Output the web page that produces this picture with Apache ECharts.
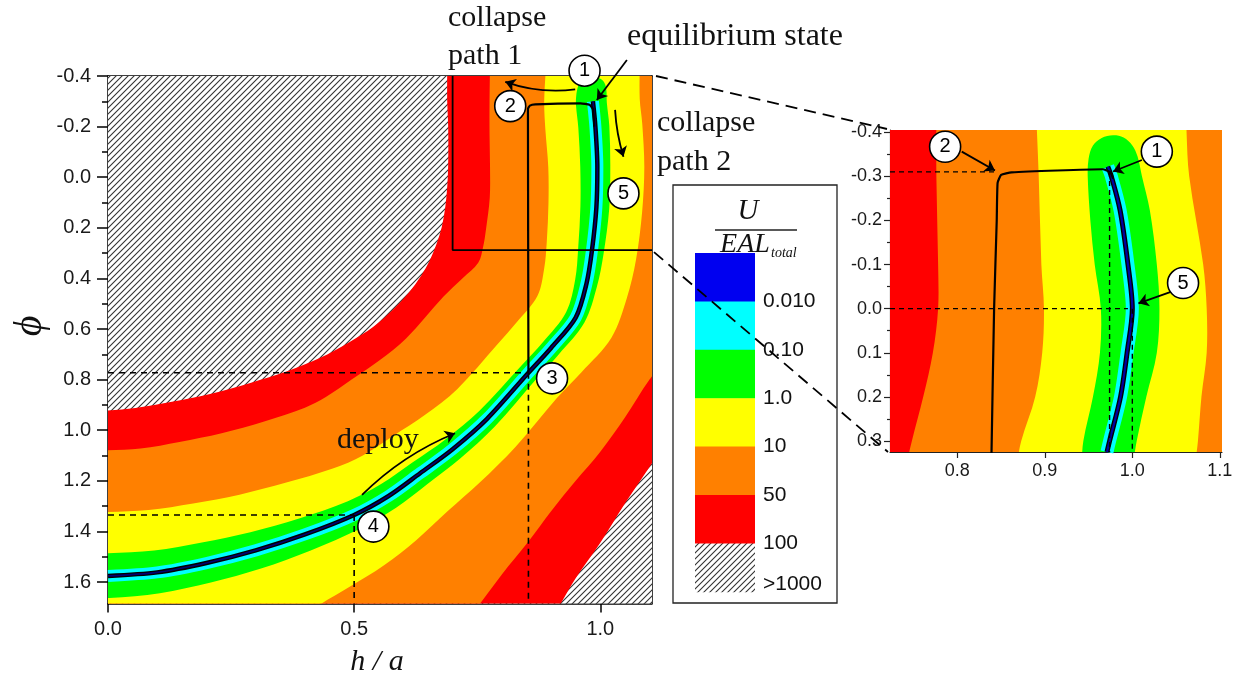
<!DOCTYPE html>
<html>
<head>
<meta charset="utf-8">
<title>Energy landscape of the deployable structure</title>
<script src="https://cdn.jsdelivr.net/npm/echarts@6/dist/echarts.min.js"></script>
<style>
html,body{margin:0;padding:0;background:#fff;}
#chart{width:1240px;height:682px;}
</style>
</head>
<body>
<div id="chart"></div>
<script>
// ---------- axis ticks ----------
const MAIN_X_TICKS = [0, 0.5, 1.0];
const MAIN_X_MINOR = [0.25, 0.75];
const MAIN_Y_TICKS = [-0.4, -0.2, 0, 0.2, 0.4, 0.6, 0.8, 1.0, 1.2, 1.4, 1.6];
const MAIN_Y_MINOR = [-0.3, -0.1, 0.1, 0.3, 0.5, 0.7, 0.9, 1.1, 1.3, 1.5];
const INSET_X_TICKS = [0.8, 0.9, 1.0, 1.1];
const INSET_X_MINOR = [0.75, 0.85, 0.95, 1.05];
const INSET_Y_TICKS = [-0.4, -0.3, -0.2, -0.1, 0, 0.1, 0.2, 0.3];
const INSET_Y_MINOR = [-0.35, -0.25, -0.15, -0.05, 0.05, 0.15, 0.25];

// ---------- energy levels (U / EAL_total) ----------
const LEVEL_LABELS = ['0.010', '0.10', '1.0', '10', '50', '100', '>1000'];
const LEVEL_COLORS = ['#0000f0', '#00ffff', '#00ff00', '#ffff00', '#ff8000', '#ff0000'];

// ---------- main map: equilibrium path (h/a, phi) ----------
const MAIN_CURVE = [[0,1.576],[0.1,1.562],[0.2,1.525],[0.3,1.475],[0.4,1.412],[0.5,1.335],[0.57,1.26],
  [0.634,1.17],[0.7,1.075],[0.77,0.955],[0.854,0.773],[0.9,0.675],[0.95,0.555],[0.972,0.42],
  [0.983,0.29],[0.992,0.12],[0.994,-0.04],[0.99,-0.2],[0.985,-0.3]];

// contour lines of the main map (upper-left side L*, lower-right side R*)
const MAIN_L100 = [[-0.05,0.925],[0,0.922],[0.0555,0.912],[0.1268,0.8885],[0.2075,0.8565],[0.289,0.813],
  [0.365,0.766],[0.43,0.715],[0.49,0.652],[0.539,0.591],[0.578,0.525],[0.61,0.459],[0.636,0.39],
  [0.654,0.327],[0.668,0.26],[0.678,0.197],[0.685,0.12],[0.689,0.04],[0.691,-0.05],[0.691,-0.2],
  [0.689,-0.3],[0.689,-0.45]];
const MAIN_R100 = [[1.15,1.0],[1.1,1.145],[1.05,1.29],[1.0,1.445],[0.95,1.585],[0.915,1.7],[0.89,1.77]];
const MAIN_L50 = [[-0.05,1.08],[-0.0187,1.08],[0.0663,1.0723],[0.1451,1.0466],[0.2309,1.0123],
  [0.3173,0.9656],[0.4,0.911],[0.4425,0.8692],[0.4949,0.8],[0.5524,0.7225],[0.6055,0.6375],
  [0.6821,0.4708],[0.7209,0.398],[0.752,0.338],[0.7618,0.2767],[0.7679,0.2047],[0.7754,0.0822],
  [0.776,-0.04],[0.775,-0.17],[0.775,-0.3],[0.776,-0.45]];
const MAIN_R50 = [[1.15,0.68],[1.1,0.8],[1.05,0.95],[1.0,1.085],[0.95,1.2],[0.9,1.32],[0.854,1.44],
  [0.8,1.57],[0.75,1.7],[0.72,1.77]];
const MAIN_L10 = [[-0.05,1.324],[-0.0096,1.3236],[0.0827,1.3154],[0.173,1.2897],[0.2671,1.255],
  [0.3622,1.2071],[0.4567,1.1518],[0.5177,1.0996],[0.5789,1.0233],[0.6435,0.9403],[0.7093,0.838],
  [0.7907,0.6617],[0.8319,0.5696],[0.8722,0.4696],[0.886,0.3613],[0.8913,0.2538],[0.8947,0.1032],
  [0.8943,-0.04],[0.8884,-0.1881],[0.886,-0.3],[0.89,-0.45]];
const MAIN_R10 = [[1.08,-0.45],[1.0801,-0.3087],[1.0852,-0.2111],[1.0894,-0.04],[1.085,0.1364],
  [1.0726,0.3257],[1.0541,0.4763],[1.0226,0.6344],[0.9618,0.7708],[0.9114,0.8739],[0.8276,1.0664],
  [0.7551,1.2071],[0.6902,1.3198],[0.6266,1.4336],[0.56,1.535],[0.49,1.62],[0.43,1.69],[0.38,1.76]];
const MAIN_L1 = [[-0.05,1.486],[0,1.486],[0.0937,1.476],[0.1907,1.444],[0.2892,1.403],[0.3882,1.349],
  [0.4872,1.281],[0.5547,1.213],[0.6183,1.128],[0.6846,1.038],[0.7541,0.9245],[0.839,0.7467],
  [0.8841,0.6506],[0.9305,0.5336],[0.949,0.4043],[0.9551,0.2791],[0.9596,0.1146],[0.9593,-0.04],
  [0.9553,-0.196],[0.9506,-0.2834],[0.951,-0.32],[0.955,-0.36],[0.962,-0.385],[0.975,-0.393],
  [0.995,-0.393],[1.006,-0.38],[1.012,-0.35]];
const MAIN_R1 = [[1.0132,-0.2957],[1.0183,-0.2032],[1.0203,-0.04],[1.0181,0.1249],[1.0069,0.2996],
  [0.9929,0.4344],[0.9677,0.5743],[0.9159,0.6996],[0.8691,0.7996],[0.7858,0.9854],[0.7154,1.1119],
  [0.6496,1.2115],[0.5852,1.3067],[0.5128,1.389],[0.4118,1.4751],[0.3108,1.547],[0.2089,1.602],
  [0.1053,1.644],[0.0033,1.663],[-0.05,1.663]];

// collapse path 1, guide lines and the zoomed window
const MAIN_PATH = [[0.854,0.773],[0.853,-0.27],[0.857,-0.283],[0.868,-0.288],[0.96,-0.292],
  [0.978,-0.286],[0.985,-0.27],[0.988,-0.2]];
const MAIN_GUIDES = [
  [[0,0.773],[0.854,0.773]], [[0.854,0.773],[0.854,1.685]],
  [[0,1.335],[0.5,1.335]], [[0.5,1.335],[0.5,1.685]]
];
const ZOOM_WINDOW = [[0.7,-0.4],[0.7,0.288],[1.105,0.288]];
const MAIN_STATES = [
  {name:'1', value:[0.968,-0.421]}, {name:'2', value:[0.817,-0.281]},
  {name:'3', value:[0.902,0.795]}, {name:'4', value:[0.539,1.381]},
  {name:'5', value:[1.047,0.064]}
];
const MAIN_ARROWS = [
  {coords:[[0.949,-0.347],[0.807,-0.377]], bend:0.12},
  {coords:[[1.054,-0.463],[0.993,-0.305]], bend:0},
  {coords:[[1.03,-0.266],[1.047,-0.081]], bend:-0.06},
  {coords:[[0.516,1.256],[0.705,1.012]], bend:0.1}
];

// ---------- inset: zoom near the folded state ----------
const INSET_CURVE = [[0.972,-0.322],[0.976,-0.3],[0.986,-0.223],[0.995,-0.1],[1.0,0.0],[0.994,0.1],
  [0.9865,0.2],[0.974,0.3],[0.971,0.325]];
const INSET_L50 = [[0.776,-0.45],[0.776,-0.3],[0.778,-0.1],[0.778,0.0],[0.772,0.1],[0.761,0.2],
  [0.748,0.3],[0.742,0.35]];
const INSET_L10 = [[0.89,-0.45],[0.891,-0.4],[0.893,-0.3],[0.896,-0.1],[0.899,0.0],[0.897,0.1],
  [0.889,0.2],[0.873,0.3],[0.868,0.35]];
const INSET_R10 = [[1.072,0.35],[1.075,0.3],[1.079,0.2],[1.085,0.1],[1.085,0.0],[1.081,-0.1],
  [1.065,-0.3],[1.062,-0.4],[1.062,-0.45]];
const INSET_L1 = [[0.942,0.35],[0.944,0.3],[0.955,0.2],[0.963,0.1],[0.964,0.0],[0.957,-0.1],
  [0.952,-0.2],[0.949,-0.3],[0.95,-0.34],[0.955,-0.37],[0.965,-0.387],[0.978,-0.393],[0.99,-0.388],
  [1.0,-0.37],[1.006,-0.345],[1.011,-0.3]];
const INSET_R1 = [[1.02,-0.223],[1.028,-0.1],[1.031,0.0],[1.028,0.1],[1.016,0.2],[1.005,0.3],[1.001,0.35]];
const INSET_PATH = [[0.839,0.33],[0.842,0.0],[0.845,-0.2],[0.846,-0.285],[0.85,-0.303],[0.862,-0.309],
  [0.966,-0.316],[0.975,-0.309],[0.978,-0.295]];
const INSET_GUIDES = [
  [[0.723,-0.31],[0.843,-0.31]], [[0.974,-0.31],[0.974,0.325]],
  [[0.723,0.0],[0.995,0.0]], [[1.0,0.0],[1.0,0.325]]
];
const INSET_STATES = [
  {name:'2', value:[0.786,-0.367]}, {name:'1', value:[1.028,-0.356]}, {name:'5', value:[1.058,-0.058]}
];
const INSET_ARROWS = [
  {coords:[[0.805,-0.356],[0.843,-0.313]], bend:0},
  {coords:[[1.011,-0.337],[0.978,-0.311]], bend:0},
  {coords:[[1.044,-0.038],[1.007,-0.012]], bend:0}
];

const SERIF = '"Liberation Serif", "Times New Roman", "DejaVu Serif", serif';
const SANS = '"Liberation Sans", Arial, sans-serif';

// diagonal hatching for the >100 region
function makeHatch(step, color) {
  const c = document.createElement('canvas');
  c.width = step; c.height = step;
  const g = c.getContext('2d');
  g.fillStyle = '#ffffff'; g.fillRect(0, 0, step, step);
  g.strokeStyle = color; g.lineWidth = 1.1;
  g.beginPath();
  g.moveTo(0, step); g.lineTo(step, 0);
  g.moveTo(-2, 2); g.lineTo(2, -2);
  g.moveTo(step - 2, step + 2); g.lineTo(step + 2, step - 2);
  g.stroke();
  return c;
}
const HATCH = {image: makeHatch(6, '#333333'), repeat: 'repeat'};

const chart = echarts.init(document.getElementById('chart'));

// a band outline: contour pieces are drawn as smooth curves, frame pieces (outside the plot) as straight lines
const curve = pts => ({smooth: true, pts: pts});
const edge = pts => ({smooth: false, pts: pts});
function smoothPath(px, first) {
  let d = (first ? 'M' : 'L') + px[0][0].toFixed(2) + ',' + px[0][1].toFixed(2);
  const n = px.length;
  const tangent = i => {
    const a = px[Math.max(0, i - 1)], b = px[Math.min(n - 1, i + 1)];
    const dx = b[0] - a[0], dy = b[1] - a[1], l = Math.hypot(dx, dy) || 1;
    return [dx / l, dy / l];
  };
  for (let i = 0; i < n - 1; i++) {
    const p = px[i], q = px[i + 1];
    const len = Math.hypot(q[0] - p[0], q[1] - p[1]) / 3;
    const t0 = tangent(i), t1 = tangent(i + 1);
    d += 'C' + (p[0] + t0[0] * len).toFixed(2) + ',' + (p[1] + t0[1] * len).toFixed(2) + ' ' +
      (q[0] - t1[0] * len).toFixed(2) + ',' + (q[1] - t1[1] * len).toFixed(2) + ' ' +
      q[0].toFixed(2) + ',' + q[1].toFixed(2);
  }
  return d;
}
function band(pieces, fill, xi, yi) {
  return {
    type: 'custom', coordinateSystem: 'cartesian2d', xAxisIndex: xi, yAxisIndex: yi,
    clip: true, silent: true, data: [pieces[0].pts[0]],
    renderItem: (params, api) => {
      let d = '';
      pieces.forEach((pc, k) => {
        const px = pc.pts.map(p => api.coord(p));
        if (pc.smooth) d += smoothPath(px, k === 0);
        else px.forEach((p, j) => { d += ((k === 0 && j === 0) ? 'M' : 'L') + p[0].toFixed(2) + ',' + p[1].toFixed(2); });
      });
      return {type: 'path', shape: {pathData: d + 'Z'}, style: {fill: fill}};
    }
  };
}
function line(data, xi, yi, color, width, extra) {
  return Object.assign({
    type: 'line', xAxisIndex: xi, yAxisIndex: yi, data: data, showSymbol: false, symbol: 'none',
    silent: true, lineStyle: {color: color, width: width, cap: 'butt'}
  }, extra || {});
}
function arrows(list, xi, yi) {
  return {
    type: 'lines', coordinateSystem: 'cartesian2d', xAxisIndex: xi, yAxisIndex: yi, clip: false,
    silent: true, symbol: ['none', 'arrow'], symbolSize: 10, z: 6,
    lineStyle: {color: '#000', width: 1.8, opacity: 1},
    data: list.map(a => ({coords: a.coords, lineStyle: {curveness: a.bend}}))
  };
}
function states(list, xi, yi, size, font) {
  return {
    type: 'scatter', xAxisIndex: xi, yAxisIndex: yi, clip: false, silent: true, z: 7,
    symbol: 'circle', symbolSize: size, data: list,
    itemStyle: {color: '#fff', borderColor: '#000', borderWidth: 1.6, opacity: 1},
    label: {show: true, position: 'inside', formatter: '{b}', color: '#000', fontSize: font, fontFamily: SANS}
  };
}
function valueAxis(gi, min, max, opts) {
  return Object.assign({
    type: 'value', gridIndex: gi, min: min, max: max, splitLine: {show: false},
    axisLine: {show: true, onZero: false, lineStyle: {color: '#000', width: 1.5}}
  }, opts);
}
const fmt1 = v => Number(v).toFixed(1);

const option = {
  animation: false,
  backgroundColor: '#ffffff',
  grid: [
    {left: 108, top: 76, width: 544, height: 527.5, show: false},
    {left: 890, top: 130, width: 332, height: 322, show: false}
  ],
  xAxis: [
    valueAxis(0, 0, 1.105, {position: 'bottom',
      axisTick: {show: true, customValues: MAIN_X_TICKS, length: 9, inside: false, lineStyle: {color: '#000', width: 1.5}},
      axisLabel: {customValues: MAIN_X_TICKS, formatter: fmt1, margin: 16, fontSize: 20, color: '#1a1a1a', fontFamily: SANS}}),
    valueAxis(0, 0, 1.105, {position: 'bottom', axisLine: {show: false},
      axisTick: {show: true, customValues: MAIN_X_MINOR, length: 5, lineStyle: {color: '#000', width: 1.5}},
      axisLabel: {show: false}}),
    valueAxis(0, 0, 1.105, {position: 'top', axisTick: {show: false}, axisLabel: {show: false}}),
    valueAxis(1, 0.723, 1.1025, {position: 'bottom', axisLine: {show: true, onZero: false, lineStyle: {color: '#222', width: 1.2}},
      axisTick: {show: true, customValues: INSET_X_TICKS, length: 6, lineStyle: {color: '#222', width: 1.2}},
      axisLabel: {customValues: INSET_X_TICKS, formatter: fmt1, margin: 10, fontSize: 18, color: '#1a1a1a', fontFamily: SANS}}),
    valueAxis(1, 0.723, 1.1025, {position: 'bottom', axisLine: {show: false},
      axisTick: {show: true, customValues: INSET_X_MINOR, length: 3, lineStyle: {color: '#222', width: 1.2}},
      axisLabel: {show: false}})
  ],
  yAxis: [
    valueAxis(0, -0.4, 1.685, {inverse: true, position: 'left',
      axisTick: {show: true, customValues: MAIN_Y_TICKS, length: 11, lineStyle: {color: '#000', width: 1.5}},
      axisLabel: {customValues: MAIN_Y_TICKS, formatter: fmt1, margin: 17, fontSize: 20, color: '#1a1a1a', fontFamily: SANS}}),
    valueAxis(0, -0.4, 1.685, {inverse: true, position: 'left', axisLine: {show: false},
      axisTick: {show: true, customValues: MAIN_Y_MINOR, length: 6, lineStyle: {color: '#000', width: 1.5}},
      axisLabel: {show: false}}),
    valueAxis(0, -0.4, 1.685, {inverse: true, position: 'right', axisTick: {show: false}, axisLabel: {show: false}}),
    valueAxis(1, -0.405, 0.325, {inverse: true, position: 'left', axisLine: {show: true, onZero: false, lineStyle: {color: '#222', width: 1.2}},
      axisTick: {show: true, customValues: INSET_Y_TICKS, length: 6, lineStyle: {color: '#222', width: 1.2}},
      axisLabel: {customValues: INSET_Y_TICKS, formatter: fmt1, margin: 8, fontSize: 18, color: '#1a1a1a', fontFamily: SANS}}),
    valueAxis(1, -0.405, 0.325, {inverse: true, position: 'left', axisLine: {show: false},
      axisTick: {show: true, customValues: INSET_Y_MINOR, length: 3, lineStyle: {color: '#222', width: 1.2}},
      axisLabel: {show: false}})
  ],
  series: [
    // main map bands, from highest level inwards
    band([edge([[-0.1,-0.5],[1.2,-0.5],[1.2,1.8],[-0.1,1.8]])], HATCH, 0, 0),
    band([curve(MAIN_L100), edge([[1.2,-0.45],[1.2,0.9]]), curve(MAIN_R100), edge([[-0.05,1.77]])], LEVEL_COLORS[5], 0, 0),
    band([curve(MAIN_L50), edge([[1.2,-0.45],[1.2,0.6]]), curve(MAIN_R50), edge([[-0.05,1.77]])], LEVEL_COLORS[4], 0, 0),
    band([curve(MAIN_L10), curve(MAIN_R10), edge([[-0.05,1.76]])], LEVEL_COLORS[3], 0, 0),
    band([curve(MAIN_L1.concat(MAIN_R1))], LEVEL_COLORS[2], 0, 0),
    line(MAIN_CURVE, 0, 0, LEVEL_COLORS[1], 12, {smooth: 0.3}),
    line(MAIN_CURVE, 0, 0, '#000', 4.5, {smooth: 0.3}),
    line(MAIN_CURVE, 0, 0, '#000070', 1.6, {smooth: 0.3}),
    line(MAIN_PATH, 0, 0, '#000', 2.2, {smooth: 0.15}),
    ...MAIN_GUIDES.map(g => line(g, 0, 0, '#000', 1.6, {lineStyle: {color: '#000', width: 1.6, type: [6, 5]}})),
    line(ZOOM_WINDOW, 0, 0, '#000', 1.8, {clip: false}),
    arrows(MAIN_ARROWS, 0, 0),
    states(MAIN_STATES, 0, 0, 31, 20),

    // inset bands
    band([edge([[0.7,-0.45],[1.15,-0.45],[1.15,0.35],[0.7,0.35]])], LEVEL_COLORS[5], 3, 3),
    band([curve(INSET_L50), edge([[1.15,0.35],[1.15,-0.45]])], LEVEL_COLORS[4], 3, 3),
    band([curve(INSET_L10), curve(INSET_R10)], LEVEL_COLORS[3], 3, 3),
    band([curve(INSET_L1.concat(INSET_R1))], LEVEL_COLORS[2], 3, 3),
    line(INSET_CURVE, 3, 3, LEVEL_COLORS[1], 13, {smooth: 0.3}),
    line(INSET_CURVE, 3, 3, '#000', 5, {smooth: 0.3}),
    line(INSET_CURVE, 3, 3, '#0000a0', 2.2, {smooth: 0.3}),
    line(INSET_PATH, 3, 3, '#000', 2.2, {smooth: 0.15}),
    ...INSET_GUIDES.map(g => line(g, 3, 3, '#000', 1.4, {lineStyle: {color: '#000', width: 1.4, type: [5, 4]}})),
    arrows(INSET_ARROWS, 3, 3),
    states(INSET_STATES, 3, 3, 31, 20)
  ]
};
chart.setOption(option);

// legend, axis titles, annotations and the zoom connectors
const legendX = 673, legendY = 185, legendW = 164, legendH = 418;
const swX = 695, swW = 60, swTop = 253, swH = 48.4;
const els = [];
els.push({type: 'rect', shape: {x: legendX, y: legendY, width: legendW, height: legendH},
  style: {fill: '#fff', stroke: '#222', lineWidth: 1.3}, z: 10});
els.push({type: 'text', x: 748, y: 211, style: {text: 'U', font: 'italic 29px ' + SERIF, fill: '#111', align: 'center', verticalAlign: 'middle'}, z: 11});
els.push({type: 'line', shape: {x1: 715, y1: 230, x2: 797, y2: 230}, style: {stroke: '#222', lineWidth: 1.5}, z: 11});
els.push({type: 'text', x: 745, y: 245, style: {text: 'EAL', font: 'italic 28px ' + SERIF, fill: '#111', align: 'center', verticalAlign: 'middle'}, z: 11});
els.push({type: 'text', x: 771, y: 253, style: {text: 'total', font: 'italic 14px ' + SERIF, fill: '#111', align: 'left', verticalAlign: 'middle'}, z: 11});
for (let i = 0; i < 7; i++) {
  els.push({type: 'rect', shape: {x: swX, y: swTop + i * swH, width: swW, height: swH + 0.5},
    style: {fill: i < 6 ? LEVEL_COLORS[i] : HATCH}, z: 11});
  const ly = i < 6 ? swTop + (i + 1) * swH : swTop + 6.85 * swH;
  els.push({type: 'text', x: 763, y: ly, style: {text: LEVEL_LABELS[i], font: '21px ' + SANS, fill: '#111', align: 'left', verticalAlign: 'middle'}, z: 12});
}
els.push({type: 'text', x: 30, y: 326, rotation: Math.PI / 2,
  style: {text: '\u03D5', font: 'italic 40px ' + SERIF, fill: '#111', align: 'center', verticalAlign: 'middle'}, z: 11});
els.push({type: 'text', x: 377, y: 662, style: {text: 'h / a', font: 'italic 30px ' + SERIF, fill: '#111', align: 'center', verticalAlign: 'middle'}, z: 11});
const note = (t, x, y, size) => ({type: 'text', x: x, y: y,
  style: {text: t, font: size + 'px ' + SERIF, fill: '#111', align: 'left', verticalAlign: 'middle'}, z: 11});
els.push(note('collapse', 448, 18, 30));
els.push(note('path 1', 448, 56, 30));
els.push(note('equilibrium state', 627, 37, 32));
els.push(note('collapse', 657, 123, 30));
els.push(note('path 2', 657, 162, 30));
els.push(note('deploy', 337, 440, 30));

const a1 = chart.convertToPixel({xAxisIndex: 0, yAxisIndex: 0}, [1.105, -0.4]);
const a2 = chart.convertToPixel({xAxisIndex: 0, yAxisIndex: 0}, [1.105, 0.288]);
const b1 = chart.convertToPixel({xAxisIndex: 3, yAxisIndex: 3}, [0.723, -0.405]);
const b2 = chart.convertToPixel({xAxisIndex: 3, yAxisIndex: 3}, [0.723, 0.325]);
els.push({type: 'line', shape: {x1: a1[0] + 4, y1: a1[1], x2: b1[0] - 3, y2: b1[1] - 1},
  style: {stroke: '#000', lineWidth: 1.8, lineDash: [12, 7]}, z: 20});
els.push({type: 'line', shape: {x1: a2[0] + 2, y1: a2[1] + 2, x2: b2[0] - 2, y2: b2[1]},
  style: {stroke: '#000', lineWidth: 1.8, lineDash: [12, 7]}, z: 20});

chart.setOption({graphic: {elements: els}});
</script>
</body>
</html>
